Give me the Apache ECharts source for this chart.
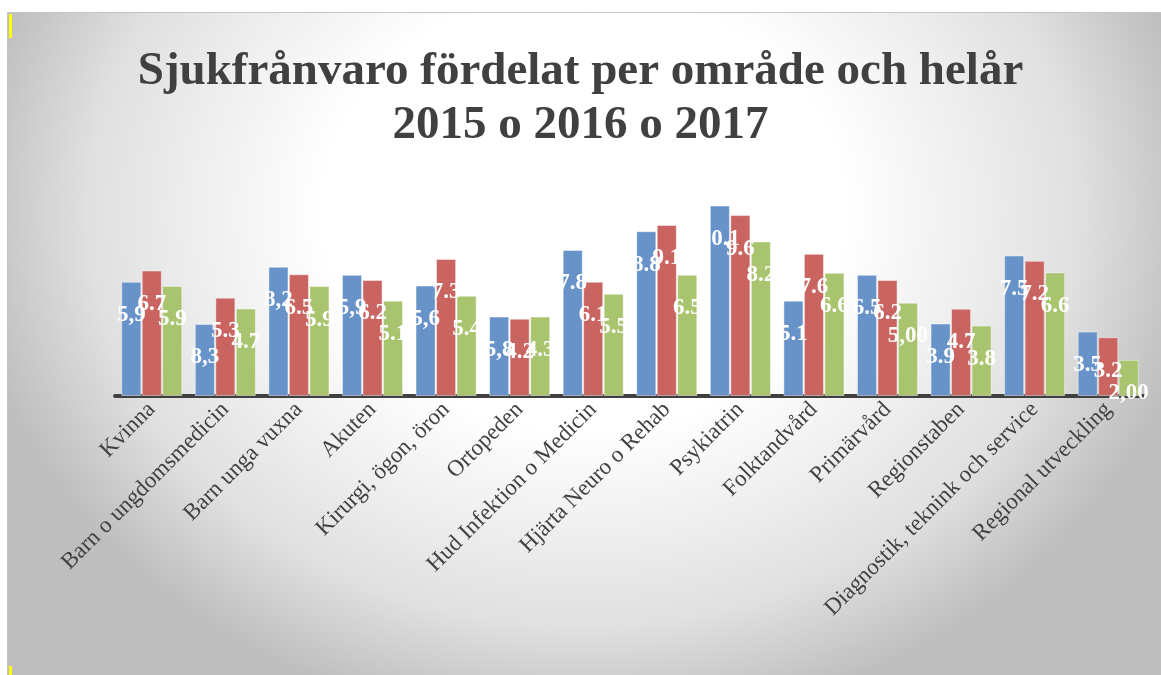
<!DOCTYPE html>
<html>
<head>
<meta charset="utf-8">
<script src="https://cdn.jsdelivr.net/npm/echarts@6/dist/echarts.min.js"></script>
<style>
html,body{margin:0;padding:0;background:#fff}
#main{width:1161px;height:675px}
</style>
</head>
<body>
<div id="main"></div>
<script>
const categories=['Kvinna','Barn o ungdomsmedicin','Barn unga vuxna','Akuten','Kirurgi, ögon, öron','Ortopeden','Hud Infektion o Medicin','Hjärta Neuro o Rehab','Psykiatrin','Folktandvård','Primärvård','Regionstaben','Diagnostik, teknink och service','Regional utveckling']

// bar heights
const v2015=[6.1,3.85,6.9,6.47,5.9,4.24,7.8,8.8,10.17,5.09,6.47,3.87,7.5,3.44]
const v2016=[6.7,5.25,6.5,6.2,7.32,4.13,6.1,9.13,9.66,7.59,6.2,4.66,7.22,3.14]
const v2017=[5.88,4.67,5.87,5.09,5.35,4.24,5.46,6.47,8.25,6.58,4.98,3.76,6.6,1.93]

// data label texts as shown in the chart
const t2015=['5,9','8,3','8,2','5,9','5,6','5,8','7.8','8.8','10.1','5.1','6.5','3.9','7.5','3.5']
const t2016=['6.7','5.3','6.5','6.2','7.3','4.2','6.1','9.1','9.6','7.6','6.2','4.7','7.2','3.2']
const t2017=['5.9','4.7','5.9','5.1','5.4','4.3','5.5','6.5','8.2','6.6','5,00','3.8','6.6','2,00']

const seriesNames=['2015','2016','2017']
const colors=['#6793c8','#c96461','#a9c46e']

const chartDom=document.getElementById('main')
let myChart=echarts.init(chartDom)
let option;

function makeData(vals,texts){
    return vals.map((v,i)=>({value:v,label:{formatter:texts[i]}}))
}

const allVals=[v2015,v2016,v2017]
const allTexts=[t2015,t2016,t2017]

// background: elliptic radial fade, done with a stretched square-ish rect
const bgScale=1.1923
option={
    backgroundColor:'#fff',
    graphic:[
        {
            type:'rect',
            z:-100,
            silent:true,
            x:7,y:12,
            scaleX:bgScale,
            shape:{x:0,y:0,width:1154/bgScale,height:663},
            style:{
                fill:{
                    type:'radial',x:0.5,y:0.3,r:0.784,
                    colorStops:[
                        {offset:0,color:'#ffffff'},
                        {offset:0.42,color:'#ffffff'},
                        {offset:0.8,color:'#e0e0e0'},
                        {offset:1,color:'#bebebe'}
                    ]
                }
            }
        },
        {
            type:'rect',
            z:-95,
            silent:true,
            shape:{x:7.5,y:12.5,width:1160,height:670},
            style:{fill:null,stroke:'#c4c4c4',lineWidth:1}
        },
        {
            type:'rect',
            z:-90,
            silent:true,
            shape:{x:9,y:14,width:3,height:24},
            style:{fill:'#ffff00'}
        },
        {
            type:'rect',
            z:-90,
            silent:true,
            shape:{x:9,y:666,width:3,height:9},
            style:{fill:'#ffff00'}
        }
    ],
    title:{
        text:'Sjukfrånvaro fördelat per område och helår\n2015 o 2016 o 2017',
        left:'center',
        top:40,
        textStyle:{
            fontFamily:'Liberation Serif',
            fontWeight:'bold',
            fontSize:47,
            lineHeight:54,
            color:'#404040'
        }
    },
    grid:{left:115,right:16,top:190,bottom:279},
    xAxis:{
        type:'category',
        data:categories,
        axisLine:{lineStyle:{color:'#404040',width:4}},
        axisTick:{show:false},
        axisLabel:{
            interval:0,
            rotate:45,
            margin:10,
            fontFamily:'Liberation Serif',
            fontSize:23,
            color:'#404040'
        }
    },
    yAxis:{
        type:'value',
        min:0,
        max:11,
        show:false,
        splitLine:{show:false}
    },
    series:seriesNames.map((name,k)=>({
        name:name,
        type:'bar',
        barGap:'2%',
        barCategoryGap:'17%',
        data:makeData(allVals[k],allTexts[k]),
        itemStyle:{
            color:colors[k],
            borderColor:'rgba(255,255,255,0.45)',
            borderWidth:1
        },
        label:{
            show:true,
            position:'insideTop',
            distance:22,
            color:'#fff',
            fontFamily:'Liberation Serif',
            fontWeight:'bold',
            fontSize:23
        }
    }))
}

option && myChart.setOption(option);
</script>
</body>
</html>
